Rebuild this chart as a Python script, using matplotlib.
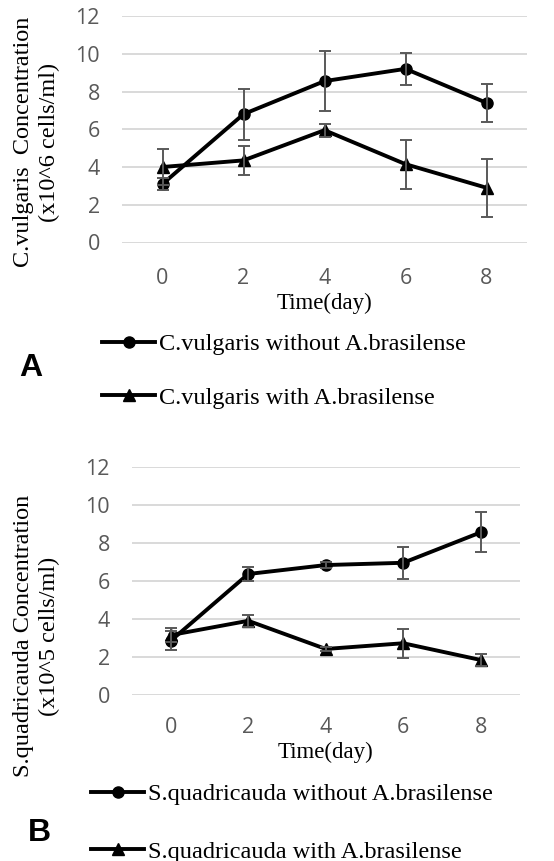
import matplotlib
matplotlib.use("Agg")
import matplotlib.pyplot as plt

# Datos
dias = [0, 2, 4, 6, 8]

cv_sin = [3.1, 6.8, 8.55, 9.2, 7.4]
cv_sin_err = [0.3, 1.35, 1.6, 0.85, 1.0]
cv_con = [4.0, 4.35, 5.95, 4.15, 2.9]
cv_con_err = [0.95, 0.75, 0.35, 1.3, 1.55]

sq_sin = [2.85, 6.36, 6.83, 6.95, 8.55]
sq_sin_err = [0.5, 0.38, 0.15, 0.83, 1.05]
sq_con = [3.15, 3.9, 2.42, 2.72, 1.84]
sq_con_err = [0.35, 0.3, 0.1, 0.75, 0.3]

yticks = [0, 2, 4, 6, 8, 10, 12]

W, H = 554, 861
fig = plt.figure(figsize=(W / 100, H / 100), dpi=100)

serif = "Liberation Serif"
sans = "Open Sans"
gris = "#595959"


def panel(rect, y1, e1, y2, e2, lab1, lab2, ylabel, ylab_pos, leg_pos, letra, letra_pos,
          xpad, lspace):
    ax = fig.add_axes(rect)
    xs = list(range(len(dias)))
    for y, e in [(y1, e1), (y2, e2)]:
        ax.errorbar(xs, y, yerr=e, fmt="none", ecolor=gris, elinewidth=1.4,
                    capsize=4.5, capthick=1.4, zorder=4)
    l1, = ax.plot(xs, y1, color="black", lw=2.8, marker="o", ms=8, zorder=3, label=lab1)
    l2, = ax.plot(xs, y2, color="black", lw=2.8, marker="^", ms=8, zorder=3, label=lab2)

    ax.set_xlim(-0.5, len(dias) - 0.5)
    ax.set_ylim(0, 12)
    ax.set_yticks(yticks)
    ax.set_xticks(xs)
    ax.set_xticklabels([str(d) for d in dias])
    ax.grid(axis="y", color="#d9d9d9", lw=1.4)
    ax.set_axisbelow(True)
    for s in ax.spines.values():
        s.set_visible(False)
    ax.tick_params(length=0, labelsize=15.5, colors=gris)
    ax.tick_params(axis="y", pad=16)
    ax.tick_params(axis="x", pad=xpad)
    for t in ax.get_xticklabels() + ax.get_yticklabels():
        t.set_fontfamily(sans)
    ax.set_xlabel("Time(day)", fontfamily=serif, fontsize=16.5, color="black", labelpad=3)

    # Titulo del eje y (dos lineas)
    fig.text(ylab_pos[0] / W, 1 - ylab_pos[1] / H, ylabel, rotation=90,
             fontfamily=serif, fontsize=17.5, ha="center", va="center",
             multialignment="center", linespacing=1.3)

    # Leyenda debajo del grafico
    fig.legend(handles=[l1, l2], loc="center left",
               bbox_to_anchor=(leg_pos[0] / W, 1 - leg_pos[1] / H),
               frameon=False, prop={"family": serif, "size": 17.5},
               handlelength=2.2, handletextpad=0.15, labelspacing=lspace,
               borderpad=0, borderaxespad=0)

    fig.text(letra_pos[0] / W, 1 - letra_pos[1] / H, letra, fontfamily="Liberation Sans",
             fontweight="bold", fontsize=23, ha="left", va="center")
    return ax


panel([122 / W, 1 - 242.5 / H, 405 / W, 226.5 / H],
      cv_sin, cv_sin_err, cv_con, cv_con_err,
      "C.vulgaris without A.brasilense", "C.vulgaris with A.brasilense",
      "C.vulgaris  Concentration\n(x10^6 cells/ml)", (37, 142), (102, 371), "A", (19, 368),
      18, 1.3)

panel([132 / W, 1 - 695 / H, 387.5 / W, 228.3 / H],
      sq_sin, sq_sin_err, sq_con, sq_con_err,
      "S.quadricauda without A.brasilense", "S.quadricauda with A.brasilense",
      "S.quadricauda Concentration\n(x10^5 cells/ml)", (37, 636), (91, 823), "B", (28, 833),
      15.5, 1.45)

fig.savefig("out.png", dpi=100)
